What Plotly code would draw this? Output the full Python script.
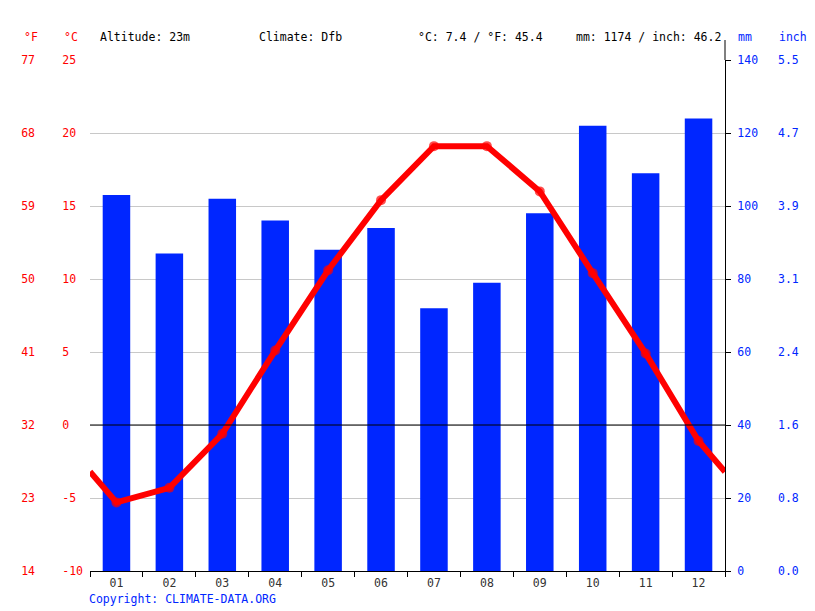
import plotly.graph_objects as go

months = ["01", "02", "03", "04", "05", "06", "07", "08", "09", "10", "11", "12"]
precip_mm = [103, 87, 102, 96, 88, 94, 72, 79, 98, 122, 109, 124]
temp_c = [-5.3, -4.3, -0.6, 5.1, 10.6, 15.4, 19.1, 19.1, 16.0, 10.4, 4.9, -1.1]

c_ticks = [-10, -5, 0, 5, 10, 15, 20, 25]
c_labels = ["-10", "-5", "0", "5", "10", "15", "20", "25"]
f_labels = ["14", "23", "32", "41", "50", "59", "68", "77"]
mm_ticks = [0, 20, 40, 60, 80, 100, 120, 140]
inch_labels = ["0.0", "0.8", "1.6", "2.4", "3.1", "3.9", "4.7", "5.5"]

RED = "#ff0000"
BLUE = "#0026ff"
FONT = "DejaVu Sans Mono"

# plot area in pixels: x 90..725, y 60..571
def px(x):
    return (x - 90) / 635.0

def py(y):
    return (571 - y) / 511.0

xc = [i + 0.5 for i in range(12)]
# line continues half a month past each end (Dec -> Jan wrap)
edge = (temp_c[0] + temp_c[-1]) / 2
line_x = [0] + xc + [12]
line_y = [edge] + temp_c + [edge]
sizes = [0] + [10] * 12 + [0]

# pad left-axis labels with nbsp so they look left aligned
width = max(len(s) for s in c_labels)
c_text = [s + "\u00a0" * (width - len(s)) for s in c_labels]

fig = go.Figure()
fig.add_trace(go.Bar(x=xc, y=precip_mm, width=0.52, marker_color=BLUE,
                     marker_line_width=0, yaxis="y", hoverinfo="skip"))
fig.add_trace(go.Scatter(x=line_x, y=line_y, mode="lines+markers", yaxis="y2",
                         line=dict(color=RED, width=6),
                         marker=dict(color=RED, size=sizes, line=dict(width=0)),
                         hoverinfo="skip"))
fig.add_trace(go.Scatter(x=[None], y=[None], yaxis="y3", hoverinfo="skip"))
fig.add_trace(go.Scatter(x=[None], y=[None], yaxis="y4", hoverinfo="skip"))

fig.update_layout(
    width=815, height=611,
    margin=dict(l=90, r=90, t=60, b=40),
    paper_bgcolor="white", plot_bgcolor="white",
    showlegend=False,
    font=dict(family=FONT, size=11.5, color="#333333"),
    xaxis=dict(range=[0, 12], tickvals=xc, ticktext=months, ticks="",
               showline=True, linecolor="black", linewidth=1,
               showgrid=False, zeroline=False, ticklabelstandoff=1,
               minor=dict(tickvals=list(range(13)), ticks="outside", ticklen=5,
                          tickcolor="black", showgrid=False)),
    yaxis=dict(side="right", range=[0, 140], tickvals=mm_ticks,
               ticks="outside", ticklen=5, tickcolor="black",
               showline=True, linecolor="black", linewidth=1,
               showgrid=True, gridcolor="#c8c8c8", zeroline=False,
               tickfont=dict(color=BLUE), ticklabelstandoff=4),
    yaxis2=dict(overlaying="y", side="left", range=[-10, 25], tickvals=c_ticks,
                ticktext=c_text, ticks="", showline=False, showgrid=False,
                zeroline=False, tickfont=dict(color=RED), ticklabelstandoff=6),
    yaxis3=dict(overlaying="y", side="left", range=[-10, 25], tickvals=c_ticks,
                ticktext=f_labels, ticks="", showline=False, showgrid=False,
                zeroline=False, tickfont=dict(color=RED), ticklabelstandoff=54),
    yaxis4=dict(overlaying="y", side="right", range=[0, 140], tickvals=mm_ticks,
                ticktext=inch_labels, ticks="", showline=False, showgrid=False,
                zeroline=False, tickfont=dict(color=BLUE), ticklabelstandoff=52),
)

# 0 °C line and the top stub of the right axis
fig.add_shape(type="line", xref="paper", yref="y2", x0=0, x1=1, y0=0, y1=0,
              line=dict(color="black", width=1), layer="above")
fig.add_shape(type="line", xref="paper", yref="paper", x0=1, x1=1, y0=1, y1=py(40),
              line=dict(color="black", width=1))

header = [
    (22, "°F", RED), (62, "°C", RED),
    (98, "Altitude: 23m", "black"), (257, "Climate: Dfb", "black"),
    (416, "°C: 7.4 / °F: 45.4", "black"), (574, "mm: 1174 / inch: 46.2", "black"),
    (736, "mm", BLUE), (777, "inch", BLUE),
]
for x, text, color in header:
    fig.add_annotation(x=px(x), y=py(37), xref="paper", yref="paper", text=text,
                       showarrow=False, xanchor="left", yanchor="middle",
                       font=dict(color=color))

fig.add_annotation(x=px(87), y=py(599), xref="paper", yref="paper",
                   text="Copyright: CLIMATE-DATA.ORG", showarrow=False,
                   xanchor="left", yanchor="middle", font=dict(color=BLUE))

fig.write_html("out.html", config={"displayModeBar": False},
               post_script="document.body.style.margin = '0';")
